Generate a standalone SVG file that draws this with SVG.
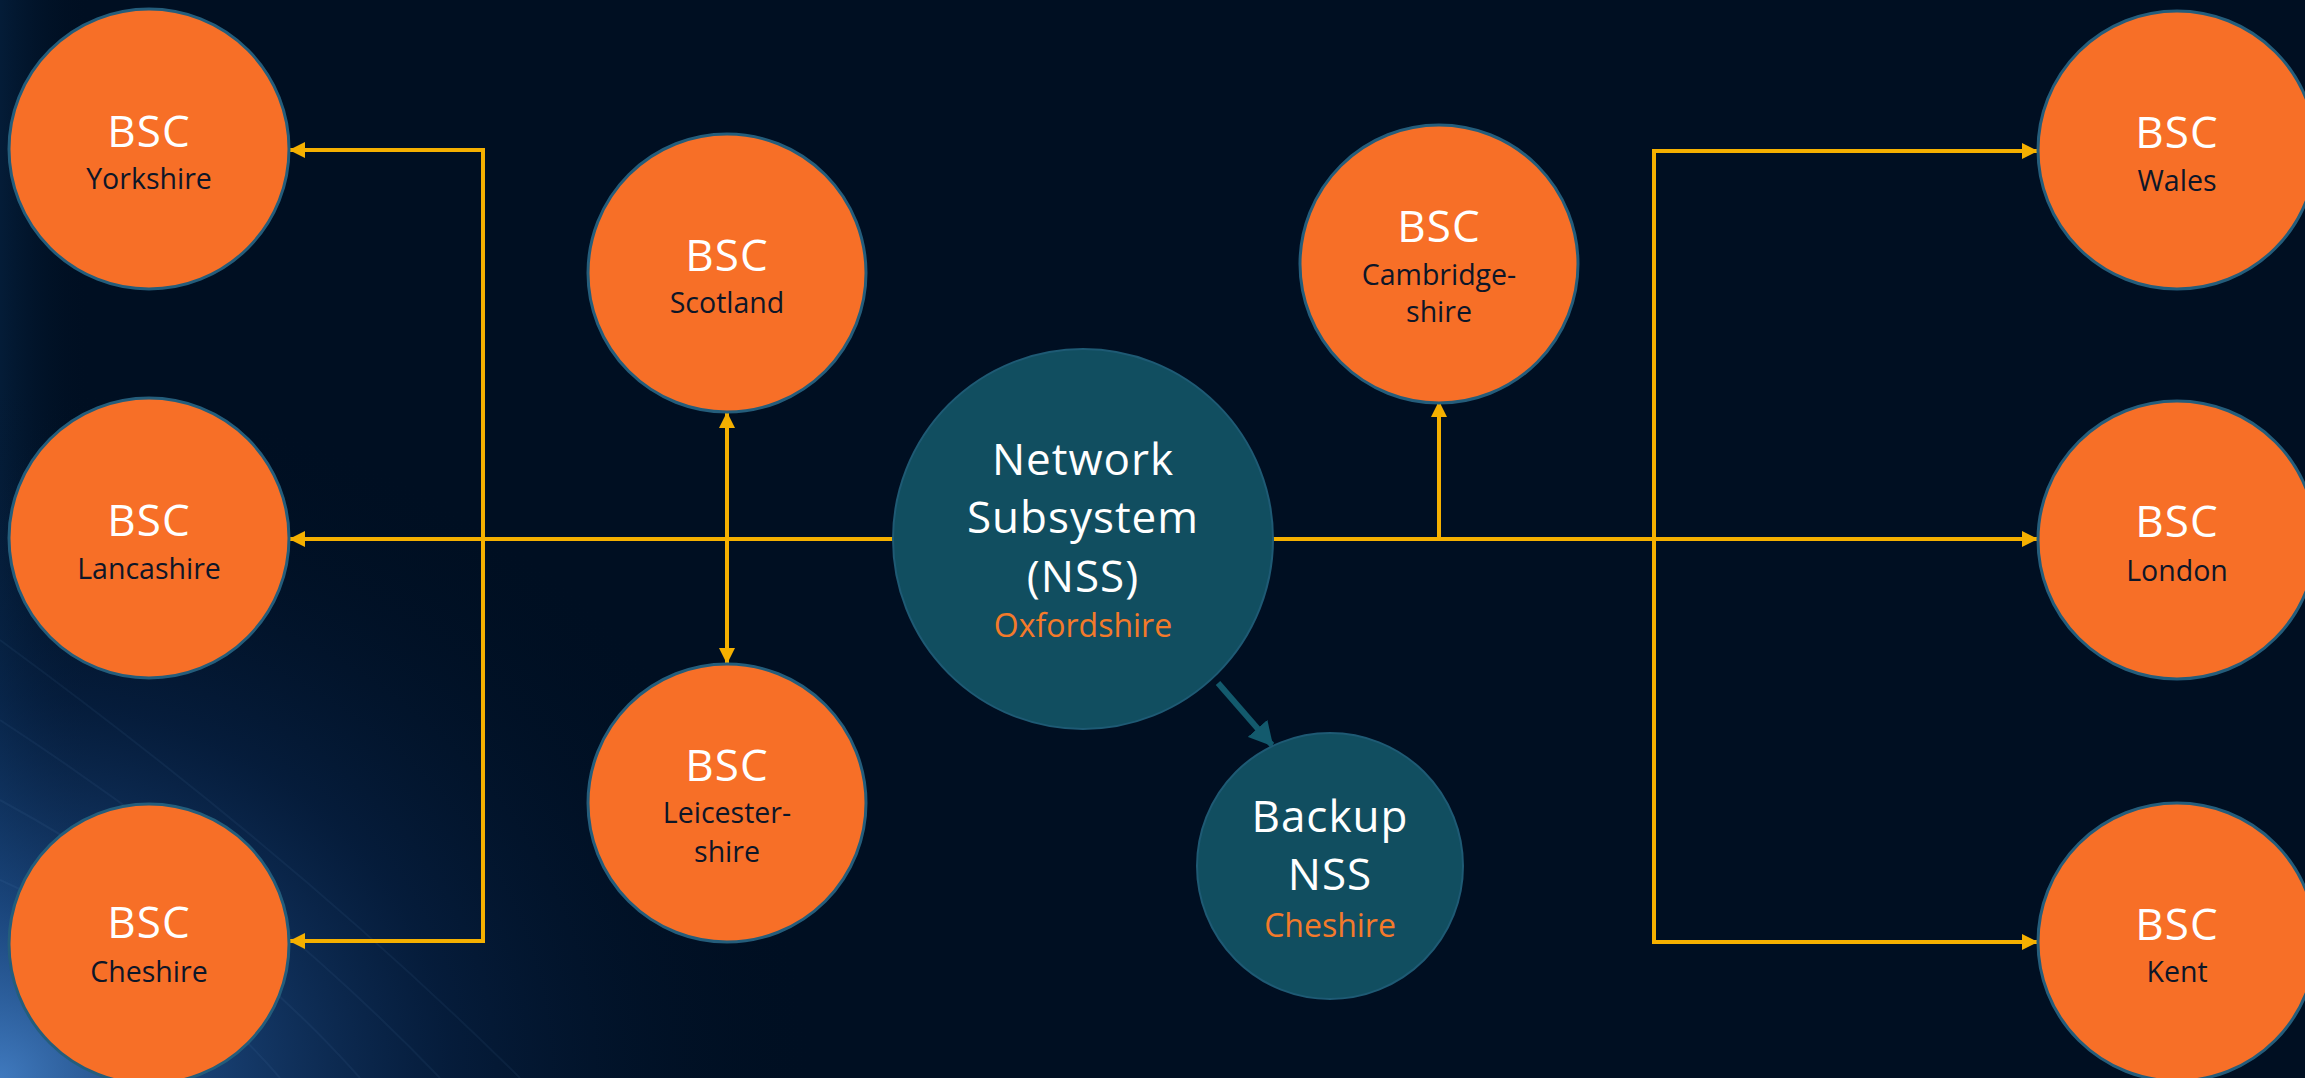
<svg xmlns="http://www.w3.org/2000/svg" width="2305" height="1078" viewBox="0 0 2305 1078">
  <defs>
    <style>
      .bsc circle { fill: #f76f27; stroke: #245d7b; stroke-width: 3; }
      .nss circle { fill: #114e60; stroke: #1e5a74; stroke-width: 2; }
      text { font-family: "Open Sans", "Noto Sans", "Liberation Sans", sans-serif; text-anchor: middle; }
      .title { fill: #ffffff; font-size: 44px; letter-spacing: 1px; }
      .sub { fill: #0d1628; font-size: 28.5px; }
      .site { fill: #f47a2a; font-size: 32px; }
      .link { fill: none; stroke: #f5b000; stroke-width: 4; }
      .backup { fill: none; stroke: #135a6d; stroke-width: 6; }
    </style>
    <marker id="arrow" markerUnits="userSpaceOnUse" markerWidth="16" markerHeight="16" viewBox="0 0 16 16" refX="15" refY="8" orient="auto-start-reverse">
      <path d="M0,0 L16,8 L0,16 z" fill="#f5b000"/>
    </marker>
    <marker id="arrowTeal" markerUnits="userSpaceOnUse" markerWidth="24" markerHeight="26" viewBox="0 0 24 26" refX="22" refY="13" orient="auto">
      <path d="M0,0 L24,13 L0,26 z" fill="#135a6d"/>
    </marker>
    <radialGradient id="glow" cx="0" cy="1078" r="820" gradientUnits="userSpaceOnUse" gradientTransform="translate(0,1078) scale(1,0.85) translate(0,-1078)">
      <stop offset="0" stop-color="#4a8ad6" stop-opacity="0.85"/>
      <stop offset="0.25" stop-color="#2860a8" stop-opacity="0.6"/>
      <stop offset="0.55" stop-color="#0f3468" stop-opacity="0.35"/>
      <stop offset="1" stop-color="#001022" stop-opacity="0"/>
    </radialGradient>
    <linearGradient id="edge" x1="0" y1="0" x2="1" y2="0">
      <stop offset="0" stop-color="#0c3560" stop-opacity="0.35"/>
      <stop offset="1" stop-color="#001022" stop-opacity="0"/>
    </linearGradient>
  </defs>

  <!-- backdrop -->
  <rect width="2305" height="1078" fill="#000f22"/>
  <rect width="90" height="1078" fill="url(#edge)"/>
  <rect width="900" height="1078" fill="url(#glow)"/>
  <g stroke="#8fbff0" stroke-opacity="0.06" stroke-width="2" fill="none">
    <path d="M0,640 Q300,860 520,1078"/>
    <path d="M0,720 Q260,890 440,1078"/>
    <path d="M0,800 Q220,920 360,1078"/>
    <path d="M0,880 Q180,960 280,1078"/>
  </g>

  <!-- connectors -->
  <g id="connectors">
    <path class="link" d="M893,539 H290" marker-end="url(#arrow)"/>
    <path class="link" d="M290,150 H483 V941 H290" marker-start="url(#arrow)" marker-end="url(#arrow)"/>
    <path class="link" d="M727,413 V663" marker-start="url(#arrow)" marker-end="url(#arrow)"/>
    <path class="link" d="M1273,539 H2037" marker-end="url(#arrow)"/>
    <path class="link" d="M1439,539 V402" marker-end="url(#arrow)"/>
    <path class="link" d="M2037,151 H1654 V942 H2037" marker-start="url(#arrow)" marker-end="url(#arrow)"/>
    <path class="backup" d="M1218,683 L1272,745" marker-end="url(#arrowTeal)"/>
  </g>

  <!-- base station controllers -->
  <g id="bsc-yorkshire" class="bsc">
    <circle cx="149" cy="149" r="140"/>
    <text class="title" x="149" y="147">BSC</text>
    <text class="sub" x="149" y="189">Yorkshire</text>
  </g>
  <g id="bsc-lancashire" class="bsc">
    <circle cx="149" cy="538" r="140"/>
    <text class="title" x="149" y="536">BSC</text>
    <text class="sub" x="149" y="579">Lancashire</text>
  </g>
  <g id="bsc-cheshire" class="bsc">
    <circle cx="149" cy="944" r="140"/>
    <text class="title" x="149" y="938">BSC</text>
    <text class="sub" x="149" y="982">Cheshire</text>
  </g>
  <g id="bsc-scotland" class="bsc">
    <circle cx="727" cy="273" r="139"/>
    <text class="title" x="727" y="271">BSC</text>
    <text class="sub" x="727" y="313">Scotland</text>
  </g>
  <g id="bsc-leicestershire" class="bsc">
    <circle cx="727" cy="803" r="139"/>
    <text class="title" x="727" y="781">BSC</text>
    <text class="sub" x="727" y="823">Leicester-</text>
    <text class="sub" x="727" y="862">shire</text>
  </g>
  <g id="bsc-cambridgeshire" class="bsc">
    <circle cx="1439" cy="264" r="139"/>
    <text class="title" x="1439" y="242">BSC</text>
    <text class="sub" x="1439" y="285">Cambridge-</text>
    <text class="sub" x="1439" y="322">shire</text>
  </g>
  <g id="bsc-wales" class="bsc">
    <circle cx="2177" cy="150" r="139"/>
    <text class="title" x="2177" y="148">BSC</text>
    <text class="sub" x="2177" y="191">Wales</text>
  </g>
  <g id="bsc-london" class="bsc">
    <circle cx="2177" cy="540" r="139"/>
    <text class="title" x="2177" y="537">BSC</text>
    <text class="sub" x="2177" y="581">London</text>
  </g>
  <g id="bsc-kent" class="bsc">
    <circle cx="2177" cy="942" r="139"/>
    <text class="title" x="2177" y="940">BSC</text>
    <text class="sub" x="2177" y="982">Kent</text>
  </g>

  <!-- network subsystems -->
  <g id="nss-oxfordshire" class="nss">
    <circle cx="1083" cy="539" r="190"/>
    <text class="title" x="1083" y="475">Network</text>
    <text class="title" x="1083" y="533">Subsystem</text>
    <text class="title" x="1083" y="592">(NSS)</text>
    <text class="site" x="1083" y="637">Oxfordshire</text>
  </g>
  <g id="nss-backup" class="nss">
    <circle cx="1330" cy="866" r="133"/>
    <text class="title" x="1330" y="832">Backup</text>
    <text class="title" x="1330" y="890">NSS</text>
    <text class="site" x="1330" y="937">Cheshire</text>
  </g>
</svg>
